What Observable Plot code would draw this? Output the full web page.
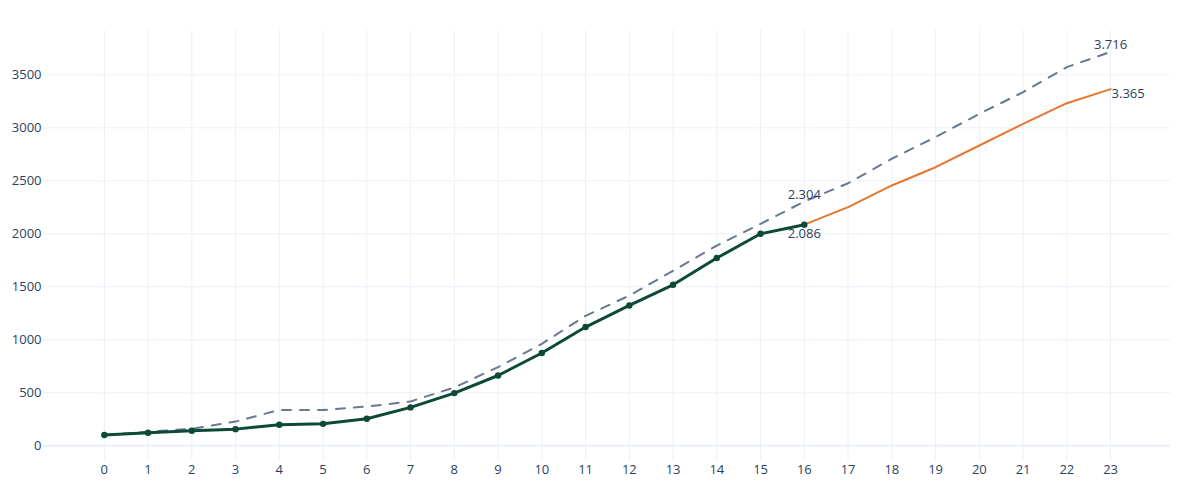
<!DOCTYPE html>
<html>
<head>
<meta charset="utf-8">
<script src="https://cdn.jsdelivr.net/npm/d3@7"></script>
<script src="https://cdn.jsdelivr.net/npm/@observablehq/plot@0.6"></script>
<style>
  html, body { margin: 0; padding: 0; background: #fff; }
  #chart svg { display: block; }
</style>
</head>
<body>
<div id="chart"></div>
<script>
// Periods on the x axis
const xTicks = d3.range(0, 24);
const yTicks = [0, 500, 1000, 1500, 2000, 2500, 3000, 3500];

// Actual series (periods 0..16)
const actualX = d3.range(0, 17);
const actualY = [101, 123, 141, 157, 198, 207, 255, 362, 497, 663, 875, 1120, 1324, 1519, 1771, 2000, 2086];

// Dashed reference series (periods 0..23)
const refX = d3.range(0, 24);
const refY = [101, 133, 160, 228, 338, 338, 370, 418, 550, 742, 962, 1226, 1417, 1651, 1889, 2094, 2304, 2477, 2708, 2912, 3132, 3336, 3572, 3716];

// Forecast series (periods 16..23)
const fcX = d3.range(16, 24);
const fcY = [2086, 2251, 2456, 2628, 2833, 3037, 3232, 3365];

// Annotations
const labelX = [16, 16, 23, 23];
const labelY = [2304, 2086, 3716, 3365];
const labelText = ["2.304", "2.086", "3.716", "3.365"];

const actual = actualX.map((x, i) => ({x, y: actualY[i]}));
const ref = refX.map((x, i) => ({x, y: refY[i]}));
const fc = fcX.map((x, i) => ({x, y: fcY[i]}));
const lab = i => [{x: labelX[i], y: labelY[i], text: labelText[i]}];

const textColor = "#2a3f5f";
const gridColor = "#EBF0F8";
const fs = 13;

const chart = Plot.plot({
  width: 1200,
  height: 500,
  marginLeft: 43,
  marginRight: 30,
  marginTop: 30,
  marginBottom: 40,
  style: {fontFamily: "'Open Sans', sans-serif", fontSize: fs + "px", color: textColor, background: "#fff"},
  x: {domain: [-1.39, 24.37], label: null},
  y: {domain: [-139, 3918], label: null},
  marks: [
    Plot.gridX(xTicks, {stroke: gridColor, strokeOpacity: 1}),
    Plot.gridY(yTicks, {stroke: gridColor, strokeOpacity: 1}),
    Plot.ruleY([0], {stroke: gridColor, strokeWidth: 2}),
    Plot.line(ref, {x: "x", y: "y", stroke: "#6A7890", strokeWidth: 2, strokeDasharray: "9,9"}),
    Plot.line(fc, {x: "x", y: "y", stroke: "#E8772E", strokeWidth: 2}),
    Plot.line(actual, {x: "x", y: "y", stroke: "#0C4A37", strokeWidth: 3}),
    Plot.dot(actual, {x: "x", y: "y", r: 3.2, fill: "#0C4A37", stroke: "none"}),
    Plot.text(lab(0), {x: "x", y: "y", text: "text", textAnchor: "middle", dy: -7, fill: textColor, fontSize: fs}),
    Plot.text(lab(1), {x: "x", y: "y", text: "text", textAnchor: "middle", dy: 9, fill: textColor, fontSize: fs}),
    Plot.text(lab(2), {x: "x", y: "y", text: "text", textAnchor: "middle", dy: -7, fill: textColor, fontSize: fs}),
    Plot.text(lab(3), {x: "x", y: "y", text: "text", textAnchor: "start", dx: 1, dy: 5, fill: textColor, fontSize: fs}),
    Plot.axisX(xTicks, {tickSize: 0, tickPadding: 4, tickFormat: d => String(d), label: null, fill: textColor, fontSize: fs}),
    Plot.axisY(yTicks, {tickSize: 0, tickPadding: 2, tickFormat: d => String(d), label: null, fill: textColor, fontSize: fs})
  ]
});
document.getElementById("chart").appendChild(chart);
</script>
</body>
</html>
